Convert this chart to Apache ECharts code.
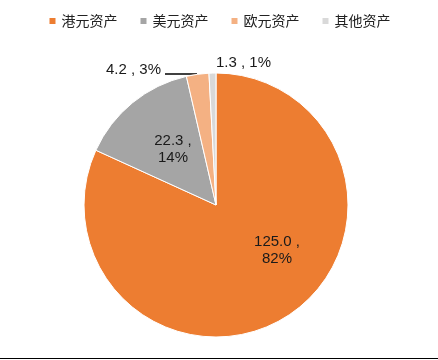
<!DOCTYPE html>
<html><head><meta charset="utf-8">
<script src="https://cdn.jsdelivr.net/npm/echarts@6/dist/echarts.min.js"></script>
<style>html,body{margin:0;padding:0;background:#fff}#c{width:438px;height:360px}</style>
</head><body><div id="c"></div>
<script>
var categories = ['港元资产', '美元资产', '欧元资产', '其他资产'];
var values = [125.0, 22.3, 4.2, 1.3];
var percents = [82, 14, 3, 1];
var colors = ['#ED7D31', '#A5A5A5', '#F4B183', '#D9D9D9'];

var chart = echarts.init(document.getElementById('c'));
var data = categories.map(function (n, i) {
  return { name: n, value: values[i], itemStyle: { color: colors[i] } };
});
chart.setOption({
  animation: false,
  legend: {
    top: 9, left: 'center',
    itemWidth: 8, itemHeight: 8, itemGap: 21,
    textStyle: { fontFamily: 'Noto Sans CJK SC', fontSize: 14, color: '#222' },
    data: categories.map(function (n) { return { name: n, icon: 'rect' }; })
  },
  series: [{
    type: 'pie',
    center: [216, 205],
    radius: 132,
    startAngle: 90,
    clockwise: true,
    legendIcon: 'rect',
    itemStyle: { borderColor: '#fff', borderWidth: 1 },
    label: {
      show: true,
      position: 'outside',
      fontFamily: 'Liberation Sans, Arial',
      fontSize: 15,
      color: '#1a1a1a',
      lineHeight: 17,
      formatter: function (p) {
        var v = p.value.toFixed(1);
        if (p.dataIndex < 2) return v + ' ,\n' + percents[p.dataIndex] + '%';
        return v + ' , ' + percents[p.dataIndex] + '%';
      }
    },
    labelLine: { show: true, lineStyle: { color: '#000', width: 1.5 } },
    labelLayout: function (p) {
      var i = p.dataIndex;
      if (i === 0) return { x: 277, y: 250, align: 'center', verticalAlign: 'middle', labelLinePoints: [[0,0],[0,0],[0,0]] };
      if (i === 1) return { x: 173, y: 149, align: 'center', verticalAlign: 'middle', labelLinePoints: [[0,0],[0,0],[0,0]] };
      if (i === 2) return { x: 161, y: 70, align: 'right', verticalAlign: 'middle', labelLinePoints: [[197,74],[181,74],[165,74]] };
      return { x: 216, y: 63, align: 'left', verticalAlign: 'middle', labelLinePoints: [[0,0],[0,0],[0,0]] };
    },
    data: data
  }],
  graphic: [{
    type: 'line', shape: { x1: 0, y1: 358.5, x2: 438, y2: 358.5 },
    style: { stroke: '#000', lineWidth: 1 }
  }]
});
</script></body></html>
